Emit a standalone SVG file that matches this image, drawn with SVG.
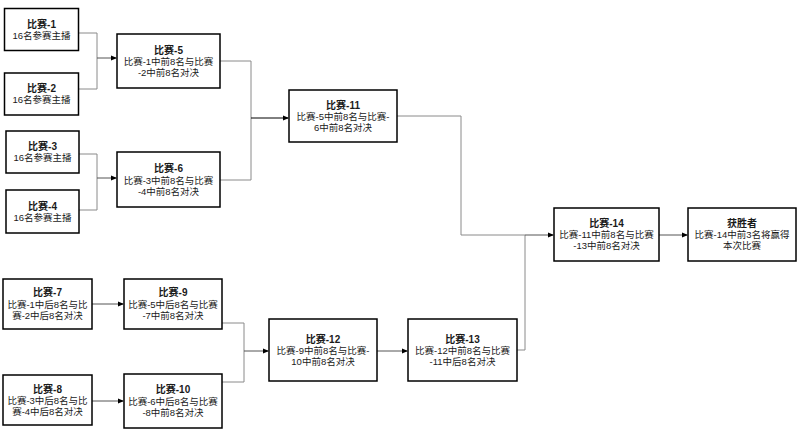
<svg xmlns="http://www.w3.org/2000/svg" width="800" height="443" viewBox="0 0 800 443">
<style>
.box{fill:#fff;stroke:#000;stroke-width:1.5}
text{font-family:"Liberation Sans","Noto Sans CJK SC",sans-serif;font-size:9.5px;fill:#1a1a1a;text-anchor:middle}
.t{font-weight:bold;font-size:10px}
.c{fill:none;stroke:#8a8a8a;stroke-width:1}
.a{fill:none;stroke:#555;stroke-width:1;marker-end:url(#arr)}
</style>
<defs>
<marker id="arr" markerWidth="6" markerHeight="6" refX="5" refY="3" orient="auto" markerUnits="userSpaceOnUse">
<path d="M0,0.5 L6,3 L0,5.5 Z" fill="#000"/>
</marker>
</defs>
<rect width="800" height="443" fill="#fff"/>
<g id="connectors">
<path class="c" d="M79,33 H97 V89 H79"/>
<path class="a" d="M97,58 H116"/>
<path class="c" d="M79,154 H97 V210 H79"/>
<path class="a" d="M97,178 H116"/>
<path class="c" d="M220,61 H251 V180 H220"/>
<path class="a" d="M251,118 H288" style="stroke:#000"/>
<path class="c" d="M397,116 H461 V235 H525"/>
<path class="c" d="M517,350 H525 V235"/>
<path class="a" d="M525,235 H553"/>
<path class="a" d="M659,235 H687"/>
<path class="a" d="M92,304 H123"/>
<path class="a" d="M92,401 H123"/>
<path class="c" d="M222,323 H244 V382 H222"/>
<path class="a" d="M244,351 H268"/>
<path class="a" d="M377,351 H407"/>
</g>
<g id="n1"><rect class="box" x="4.5" y="8.5" width="74" height="42"/><text x="41.5" y="27.5"><tspan class="t">比赛-1</tspan><tspan x="41.5" dy="11">16名参赛主播</tspan></text></g>
<g id="n2"><rect class="box" x="4.5" y="73" width="74" height="42"/><text x="41.5" y="92"><tspan class="t">比赛-2</tspan><tspan x="41.5" dy="11">16名参赛主播</tspan></text></g>
<g id="n3"><rect class="box" x="6" y="131" width="73" height="42"/><text x="42.5" y="150"><tspan class="t">比赛-3</tspan><tspan x="42.5" dy="11">16名参赛主播</tspan></text></g>
<g id="n4"><rect class="box" x="6" y="190" width="73" height="43"/><text x="42.5" y="209.5"><tspan class="t">比赛-4</tspan><tspan x="42.5" dy="11">16名参赛主播</tspan></text></g>
<g id="n5"><rect class="box" x="117" y="34" width="103" height="54"/><text x="168.5" y="53.5"><tspan class="t">比赛-5</tspan><tspan x="168.5" dy="11.5">比赛-1中前8名与比赛</tspan><tspan x="168.5" dy="11">-2中前8名对决</tspan></text></g>
<g id="n6"><rect class="box" x="117" y="152" width="103" height="55"/><text x="168.5" y="172"><tspan class="t">比赛-6</tspan><tspan x="168.5" dy="11.5">比赛-3中前8名与比赛</tspan><tspan x="168.5" dy="11">-4中前8名对决</tspan></text></g>
<g id="n11"><rect class="box" x="289" y="90" width="108" height="52"/><text x="343" y="108.5"><tspan class="t">比赛-11</tspan><tspan x="343" dy="11.5">比赛-5中前8名与比赛-</tspan><tspan x="343" dy="11">6中前8名对决</tspan></text></g>
<g id="n14"><rect class="box" x="554" y="208" width="105" height="53"/><text x="606.5" y="226.5"><tspan class="t">比赛-14</tspan><tspan x="606.5" dy="11.5">比赛-11中前8名与比赛</tspan><tspan x="606.5" dy="11">-13中前8名对决</tspan></text></g>
<g id="nw"><rect class="box" x="688" y="208" width="108" height="53"/><text x="742" y="226.5"><tspan class="t">获胜者</tspan><tspan x="742" dy="11.5">比赛-14中前3名将赢得</tspan><tspan x="742" dy="11">本次比赛</tspan></text></g>
<g id="n7"><rect class="box" x="3" y="279" width="89" height="50"/><text x="47.5" y="296"><tspan class="t">比赛-7</tspan><tspan x="47.5" dy="11.5">比赛-1中后8名与比</tspan><tspan x="47.5" dy="11">赛-2中后8名对决</tspan></text></g>
<g id="n9"><rect class="box" x="124" y="279" width="98" height="50"/><text x="173" y="296"><tspan class="t">比赛-9</tspan><tspan x="173" dy="11.5">比赛-5中后8名与比赛</tspan><tspan x="173" dy="11">-7中前8名对决</tspan></text></g>
<g id="n8"><rect class="box" x="3" y="375" width="89" height="50"/><text x="47.5" y="392.5"><tspan class="t">比赛-8</tspan><tspan x="47.5" dy="11.5">比赛-3中后8名与比</tspan><tspan x="47.5" dy="11">赛-4中后8名对决</tspan></text></g>
<g id="n10"><rect class="box" x="124" y="374" width="98" height="54"/><text x="173" y="393"><tspan class="t">比赛-10</tspan><tspan x="173" dy="11.5">比赛-6中后8名与比赛</tspan><tspan x="173" dy="11">-8中前8名对决</tspan></text></g>
<g id="n12"><rect class="box" x="269" y="319" width="108" height="62"/><text x="323" y="342.5"><tspan class="t">比赛-12</tspan><tspan x="323" dy="11.5">比赛-9中前8名与比赛-</tspan><tspan x="323" dy="11">10中前8名对决</tspan></text></g>
<g id="n13"><rect class="box" x="408" y="319" width="109" height="62"/><text x="462.5" y="342.5"><tspan class="t">比赛-13</tspan><tspan x="462.5" dy="11.5">比赛-12中前8名与比赛</tspan><tspan x="462.5" dy="11">-11中后8名对决</tspan></text></g>
</svg>
